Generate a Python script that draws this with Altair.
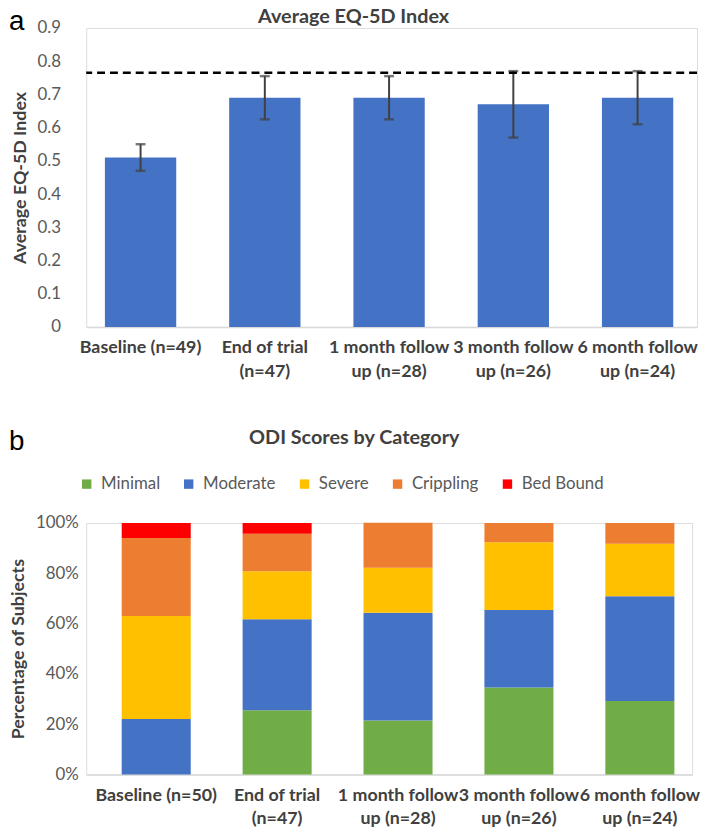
import altair as alt
import pandas as pd

# ---------------- data ----------------
top_cats = ["Baseline (n=49)", "End of trial\n(n=47)", "1 month follow\nup (n=28)",
            "3 month follow\nup (n=26)", "6 month follow\nup (n=24)"]
eq5d_mean = [0.51, 0.69, 0.69, 0.67, 0.69]
eq5d_err = [0.04, 0.065, 0.065, 0.10, 0.08]
norm_line = [0.765]
top_ticks = [0, 0.1, 0.2, 0.3, 0.4, 0.5, 0.6, 0.7, 0.8, 0.9]

bot_cats = ["Baseline (n=50)", "End of trial\n(n=47)", "1 month follow\nup (n=28)",
            "3 month follow\nup (n=26)", "6 month follow\nup (n=24)"]
levels = ["Minimal", "Moderate", "Severe", "Crippling", "Bed Bound"]
level_colors = ["#70AD47", "#4472C4", "#FFC000", "#ED7D31", "#FF0000"]
minimal = [0, 25.5, 21.4, 34.6, 29.2]
moderate = [22, 36.2, 42.9, 30.8, 41.7]
severe = [41, 19.1, 17.9, 26.9, 20.8]
crippling = [31, 14.9, 17.9, 7.7, 8.3]
bed_bound = [6, 4.3, 0, 0, 0]
bot_ticks = [0, 20, 40, 60, 80, 100]

panel_a = ["a"]
panel_b = ["b"]

FONT = "Lato"
DARK = "#404040"
GRAY = "#595959"


def xaxis():
    return alt.Axis(labelAngle=0, labelExpr="split(datum.label, '\\n')", labelFont=FONT,
                    labelFontSize=18, labelFontWeight="bold", labelColor=DARK,
                    labelPadding=12, labelLineHeight=24, ticks=False,
                    domainColor="#D9D9D9", domainWidth=1.5, labelLimit=200)


# ---------------- top chart ----------------
df_top = pd.DataFrame({
    "cat": top_cats,
    "mean": eq5d_mean,
    "lo": [m - e for m, e in zip(eq5d_mean, eq5d_err)],
    "hi": [m + e for m, e in zip(eq5d_mean, eq5d_err)],
})
df_ref = pd.DataFrame({"ref": norm_line})
df_a = pd.DataFrame({"t": panel_a})

x_top = alt.X("cat:N", sort=top_cats, title=None, axis=xaxis(),
              scale=alt.Scale(paddingInner=0.426, paddingOuter=0.171, align=0.44))

y_top_scale = alt.Scale(domain=[0, 0.9])
y_top_axis = alt.Axis(values=top_ticks, format=".1~f",
                      grid=False, ticks=False, domain=False, labelFont=FONT, labelFontSize=17,
                      labelColor=GRAY, labelPadding=26, labelOverlap=False,
                      titleFont=FONT, titleFontSize=18,
                      titleFontWeight="bold", titleColor=DARK, titlePadding=8)
YT = "Average EQ-5D Index"


def ytop(field):
    return alt.Y(field, scale=y_top_scale, axis=y_top_axis, title=YT)


base_top = alt.Chart(df_top).encode(x=x_top)
bars = base_top.mark_bar(color="#4472C4").encode(y=ytop("mean:Q"))
err = base_top.mark_rule(color=DARK, strokeWidth=2).encode(y=ytop("lo:Q"), y2="hi:Q")
cap_hi = base_top.mark_tick(color=DARK, thickness=2.5, size=10).encode(y=ytop("hi:Q"))
cap_lo = base_top.mark_tick(color=DARK, thickness=2.5, size=10).encode(y=ytop("lo:Q"))
ref = alt.Chart(df_ref).mark_rule(color="black", strokeWidth=2.5, strokeDash=[8, 5]).encode(
    y=ytop("ref:Q"))
letter_a = alt.Chart(df_a).mark_text(font="Liberation Sans", fontSize=28, align="left",
                                     baseline="alphabetic", color="black").encode(
    text="t:N", x=alt.value(-78), y=alt.value(2))

top = alt.layer(bars, err, cap_hi, cap_lo, ref, letter_a).properties(
    width=617, height=302,
    title=alt.Title("Average EQ-5D Index", font=FONT, fontSize=20, fontWeight="bold",
                    color=DARK, frame="bounds", anchor="middle", offset=-19))

# ---------------- bottom chart ----------------
rows = []
series = [minimal, moderate, severe, crippling, bed_bound]
for li, (lvl, vals) in enumerate(zip(levels, series)):
    for c, v in zip(bot_cats, vals):
        rows.append({"cat": c, "level": lvl, "idx": li, "pct": v})
df_bot = pd.DataFrame(rows)
df_b = pd.DataFrame({"t": panel_b})

x_bot = alt.X("cat:N", sort=bot_cats, title=None, axis=xaxis(),
              scale=alt.Scale(paddingInner=0.429, paddingOuter=0.22, align=0.667))
y_bot_axis = alt.Axis(values=bot_ticks, labelExpr="datum.value + '%'",
                      grid=False, ticks=False, domain=False, labelFont=FONT, labelFontSize=17,
                      labelColor=GRAY, labelPadding=8, labelOverlap=False,
                      titleFont=FONT, titleFontSize=18,
                      titleFontWeight="bold", titleColor=DARK, titlePadding=8)
YB = "Percentage of Subjects"

stack = alt.Chart(df_bot).mark_bar().encode(
    x=x_bot,
    y=alt.Y("pct:Q", stack="zero", scale=alt.Scale(domain=[0, 100]), axis=y_bot_axis, title=YB),
    color=alt.Color("level:N", scale=alt.Scale(domain=levels, range=level_colors),
                    legend=alt.Legend(orient="none", legendX=-8, legendY=-48,
                                      direction="horizontal", title=None, symbolType="square",
                                      symbolSize=90, symbolStrokeWidth=0, labelFont=FONT,
                                      labelFontSize=17, labelColor=GRAY, columnPadding=20,
                                      labelOffset=6)),
    order=alt.Order("idx:Q"),
)
letter_b = alt.Chart(df_b).mark_text(font="Liberation Sans", fontSize=28, align="left",
                                     baseline="alphabetic", color="black").encode(
    text="t:N", x=alt.value(-78), y=alt.value(-74))

bottom = alt.layer(stack, letter_b).properties(
    width=612, height=254,
    title=alt.Title("ODI Scores by Category", font=FONT, fontSize=20, fontWeight="bold",
                    color=DARK, frame="bounds", anchor="middle", offset=-20))

chart = alt.vconcat(top, bottom, spacing=46).resolve_legend(color="independent").properties(
    padding={"left": 0, "top": -6, "right": 0, "bottom": 0}
).configure_view(stroke=None).configure(font=FONT)

chart.save("out.html", embed_options={"renderer": "svg", "actions": False})
